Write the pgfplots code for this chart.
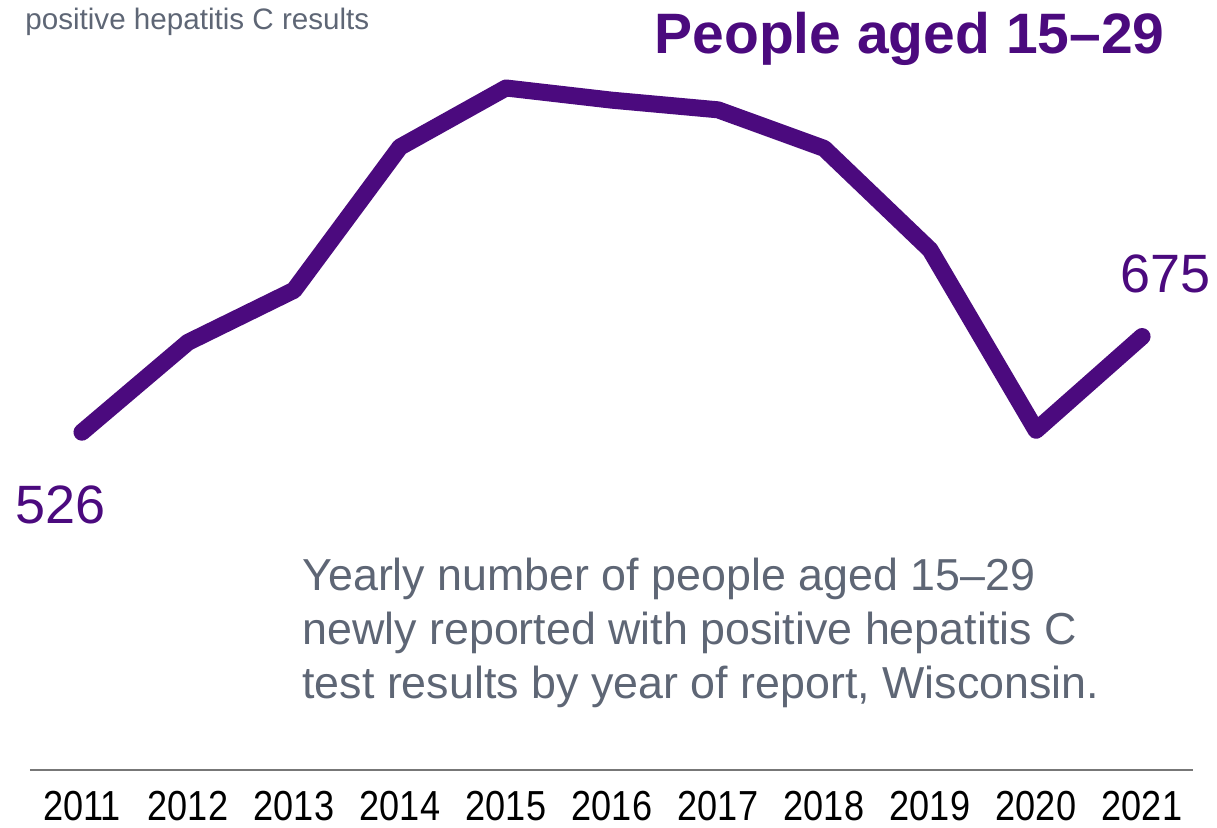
\documentclass[border=0pt]{standalone}
\usepackage{pgfplots}
\pgfplotsset{compat=1.18}
\usepackage{fontspec}
\setmainfont{Liberation Sans}
\newfontfamily\narrowfont[FakeStretch=0.86]{Liberation Sans}
\definecolor{hcvpurple}{HTML}{4B0A7E}
\definecolor{notegray}{HTML}{5E6675}
\definecolor{axisgray}{HTML}{777777}
\begin{document}
\begin{tikzpicture}[x=1pt,y=1pt]
\path[use as bounding box] (0,0) rectangle (608.5,413.5);
\begin{axis}[
  at={(15pt,28.5pt)}, anchor=south west,
  scale only axis, width=581.5pt, height=385pt,
  xmin=2010.51, xmax=2021.48, ymin=0, ymax=1199,
  clip=false,
  axis x line=bottom, axis y line=none,
  x axis line style={axisgray, line width=1pt, -},
  xtick={2011,...,2021}, major tick length=0pt,
  /pgf/number format/1000 sep={},
  /pgf/number format/assume math mode=true,
  xticklabel style={font=\narrowfont\fontsize{21}{21}\selectfont, text=black, yshift=-7pt},
]
\addplot[hcvpurple, line width=8.5pt, line cap=round, line join=round] coordinates {
(2011,526) (2012,666) (2013,747) (2014,970) (2015,1062) (2016,1043)
(2017,1028) (2018,968) (2019,810) (2020,529) (2021,675)};
\end{axis}
\node[anchor=base east, text=hcvpurple, font=\bfseries\fontsize{28.5}{28.5}\selectfont, inner sep=0pt] at (582.5,386.5) {People aged 15–29};
\node[anchor=base west, text=notegray, font=\fontsize{14.8}{14.8}\selectfont, inner sep=0pt] at (12.5,398.5) {positive hepatitis C results};
\node[anchor=base west, text=hcvpurple, font=\fontsize{27}{27}\selectfont, inner sep=0pt] at (7.5,152) {526};
\node[anchor=base west, text=hcvpurple, font=\fontsize{27}{27}\selectfont, inner sep=0pt] at (560,267.5) {675};
\node[anchor=base west, text=notegray, font=\fontsize{22.4}{22.4}\selectfont, inner sep=0pt] at (151,118.5) {Yearly number of people aged 15–29};
\node[anchor=base west, text=notegray, font=\fontsize{22.4}{22.4}\selectfont, inner sep=0pt] at (151,91.5) {newly reported with positive hepatitis C};
\node[anchor=base west, text=notegray, font=\fontsize{22.4}{22.4}\selectfont, inner sep=0pt] at (151,64.5) {test results by year of report, Wisconsin.};
\end{tikzpicture}
\end{document}
